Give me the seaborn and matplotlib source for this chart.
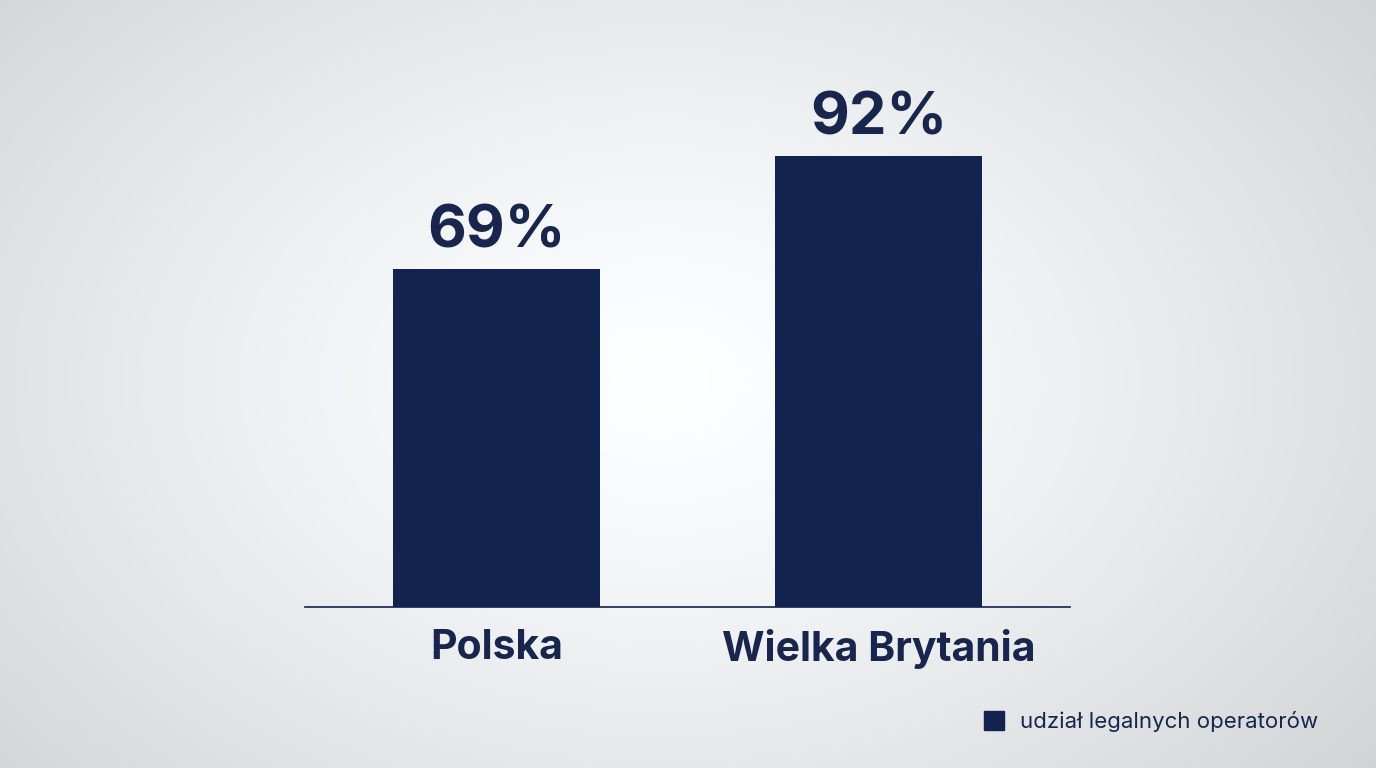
import numpy as np
import pandas as pd
import matplotlib.pyplot as plt
import seaborn as sns
from matplotlib.patches import Patch

countries = ["Polska", "Wielka Brytania"]
shares = [69, 92]
value_labels = ["69%", "92%"]
legend_label = "udział legalnych operatorów"

NAVY = "#13234f"
TEXT = "#18264d"

sns.set_theme(style="white")
plt.rcParams["font.family"] = ["Inter", "DejaVu Sans"]

fig = plt.figure(figsize=(13.76, 7.68), dpi=100)

# radial gradient background
bg = fig.add_axes([0, 0, 1, 1], zorder=-10)
yy, xx = np.mgrid[0:768, 0:1376]
r = np.sqrt(((xx - 660) / 900) ** 2 + ((yy - 380) / 620) ** 2)
shade = np.clip(1 - 0.17 * r ** 1.3, 0, 1)
img = np.dstack([shade * 0.985, shade * 0.99, shade * 1.0])
img = np.clip(img + 0.01, 0, 1)
bg.imshow(img, aspect="auto", extent=[0, 1, 0, 1])
bg.axis("off")

ax = fig.add_axes([305 / 1376, (768 - 607) / 768, 765 / 1376, 490 / 768])
ax.patch.set_alpha(0)

df = pd.DataFrame({"country": countries, "share": shares})
sns.barplot(data=df, x="country", y="share", color=NAVY, width=0.54,
            saturation=1, linewidth=0, ax=ax)

ax.set_xlim(-0.5, 1.5)
ax.set_ylim(0, 100)
ax.set_xlabel("")
ax.set_ylabel("")
ax.set_yticks([])
for s in ["top", "right", "left"]:
    ax.spines[s].set_visible(False)
ax.spines["bottom"].set_color(NAVY)
ax.spines["bottom"].set_linewidth(1.2)
ax.tick_params(axis="x", length=0, pad=16)
for lbl in ax.get_xticklabels():
    lbl.set_fontsize(29.5)
    lbl.set_fontweight("bold")
    lbl.set_color(TEXT)

for i, (v, t) in enumerate(zip(shares, value_labels)):
    ax.annotate(t, (i, v), xytext=(0, 7), textcoords="offset points",
                ha="center", va="bottom", fontsize=43, fontweight="bold",
                color=TEXT)

fig.legend(handles=[Patch(facecolor=NAVY, edgecolor=NAVY, label=legend_label)],
           loc="lower right", bbox_to_anchor=(1338 / 1376, 16 / 768),
           frameon=False, fontsize=16, handlelength=0.9, handleheight=0.9,
           handletextpad=0.7, labelcolor=TEXT)

fig.savefig("out.png", dpi=100)
